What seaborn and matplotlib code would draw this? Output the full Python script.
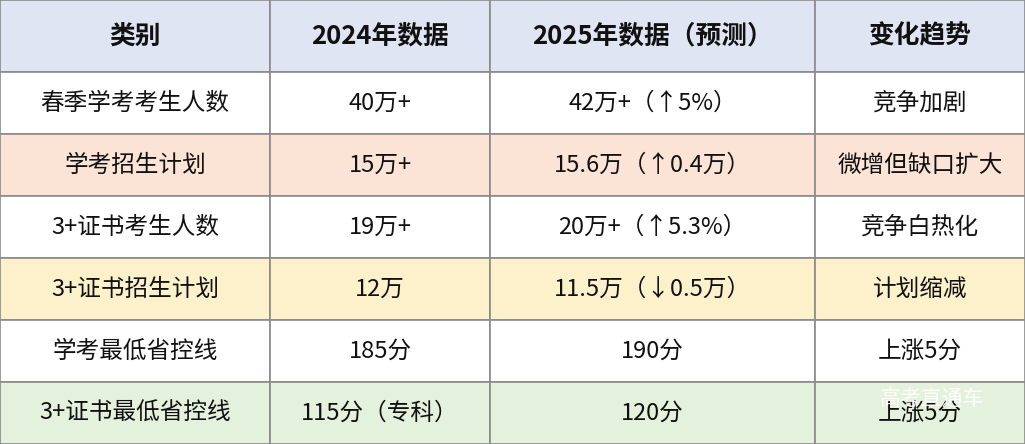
import matplotlib
matplotlib.use("Agg")
import matplotlib.pyplot as plt
import seaborn as sns
from matplotlib.patches import Rectangle

sns.set_theme(style="white")
plt.rcParams['font.family'] = ['Noto Sans CJK SC', 'DejaVu Sans']

headers = ["类别", "2024年数据", "2025年数据（预测）", "变化趋势"]
categories = ["春季学考考生人数", "学考招生计划", "3+证书考生人数", "3+证书招生计划", "学考最低省控线", "3+证书最低省控线"]
data_2024 = ["40万+", "15万+", "19万+", "12万", "185分", "115分（专科）"]
data_2025 = ["42万+（↑5%）", "15.6万（↑0.4万）", "20万+（↑5.3%）", "11.5万（↓0.5万）", "190分", "120分"]
trends = ["竞争加剧", "微增但缺口扩大", "竞争白热化", "计划缩减", "上涨5分", "上涨5分"]
row_colors = ["#ffffff", "#fbe3d6", "#ffffff", "#fdf1cc", "#ffffff", "#e4f1dc"]
header_color = "#dfe5f2"

W, H = 1025, 444
col_edges = [0, 270, 490, 815, 1025]
row_edges = [0, 72, 134, 196, 258, 320, 382, 444]

fig = plt.figure(figsize=(W/100, H/100), dpi=100)
ax = fig.add_axes([0, 0, 1, 1])
ax.set_xlim(0, W); ax.set_ylim(H, 0); ax.axis("off")

rows = [headers] + [list(r) for r in zip(categories, data_2024, data_2025, trends)]
colors = [header_color] + row_colors
for i, row in enumerate(rows):
    y0, y1 = row_edges[i], row_edges[i+1]
    for j, txt in enumerate(row):
        x0, x1 = col_edges[j], col_edges[j+1]
        ax.add_patch(Rectangle((x0, y0), x1-x0, y1-y0, facecolor=colors[i],
                               edgecolor="#8a8a8a", linewidth=1.2))
        ax.text((x0+x1)/2, (y0+y1)/2, txt, ha="center", va="center",
                fontsize=18.5 if i == 0 else 17, color="#111111",
                fontweight="bold" if i == 0 else "normal")

ax.text(932, 400, "高考直通车", ha="center", va="center", fontsize=15,
        color="white", alpha=0.9)

fig.savefig("out.png", dpi=100)
